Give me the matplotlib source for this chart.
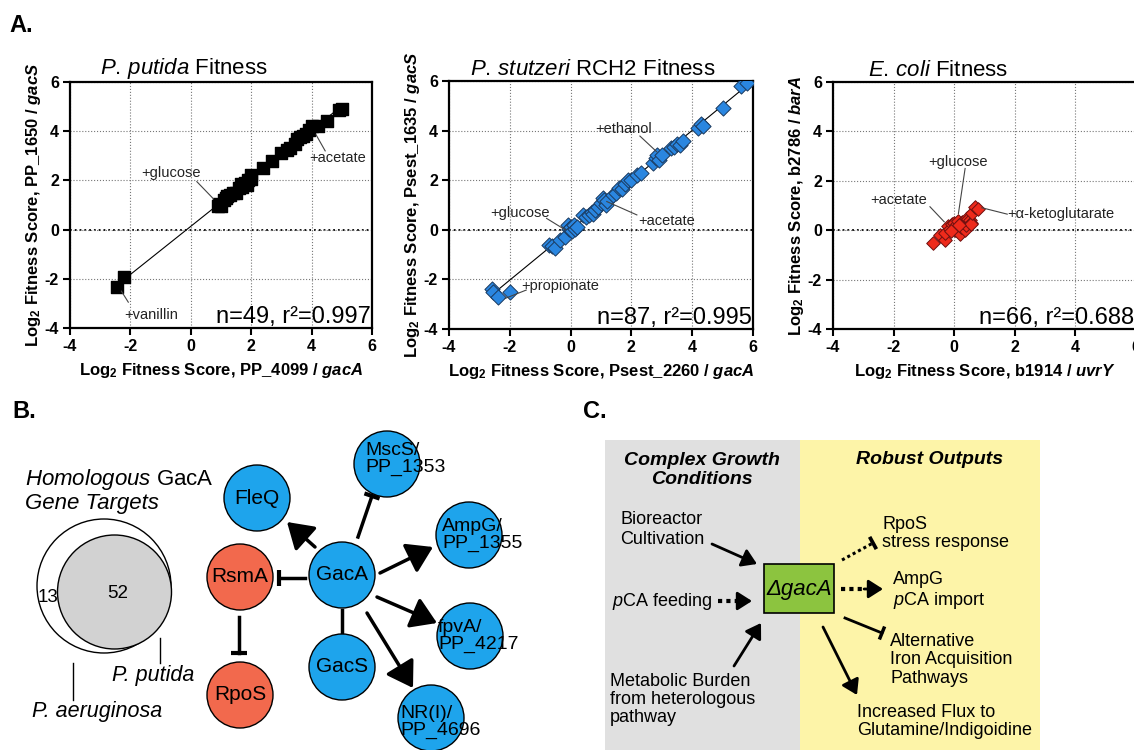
import numpy as np
import matplotlib.pyplot as plt
from matplotlib.patches import Circle, Rectangle

plt.rcParams['font.family'] = ['Liberation Sans', 'DejaVu Sans']
plt.rcParams['mathtext.fontset'] = 'custom'
plt.rcParams['mathtext.rm'] = 'Liberation Sans'
plt.rcParams['mathtext.it'] = 'Liberation Sans:italic'
plt.rcParams['mathtext.bf'] = 'Liberation Sans:bold'
plt.rcParams['mathtext.bfit'] = 'Liberation Sans:italic:bold'
plt.rcParams['axes.unicode_minus'] = False

W, H = 1134, 750

# --- panel A data ---
putida_x = [-2.45, -2.2, 0.9, 0.95, 1.0, 1.1, 1.15, 1.2, 1.3, 1.4, 1.5, 1.6, 1.65, 1.7, 1.8,
            1.85, 1.9, 2.0, 2.0, 2.4, 2.7, 3.0, 3.2, 3.3, 3.45, 3.5, 3.6, 3.7, 3.8, 3.9,
            4.0, 4.2, 4.5, 4.9, 5.0]
putida_y = [-2.32, -1.91, 0.95, 1.05, 0.95, 1.2, 1.3, 1.35, 1.4, 1.5, 1.5, 1.7, 1.85, 1.75, 1.9,
            1.8, 2.0, 2.05, 2.2, 2.5, 2.8, 3.1, 3.25, 3.3, 3.5, 3.7, 3.75, 3.8, 3.9, 4.05,
            4.2, 4.2, 4.4, 4.85, 4.9]

stutzeri_x = [-2.6, -2.55, -2.4, -2.0, -0.7, -0.6, -0.5, -0.35, -0.2, -0.1, -0.05, 0.0, 0.0, 0.05,
              0.1, 0.15, 0.2, 0.4, 0.5, 0.6, 0.7, 0.75, 0.8, 0.9, 1.0, 1.05, 1.1, 1.15, 1.2,
              1.4, 1.5, 1.6, 1.7, 1.8, 1.9, 2.0, 2.2, 2.3, 2.7, 2.8, 2.85, 2.9, 3.0, 3.3,
              3.4, 3.5, 3.6, 3.7, 4.2, 4.3, 4.35, 5.0, 5.6, 5.8]
stutzeri_y = [-2.4, -2.5, -2.7, -2.5, -0.6, -0.65, -0.75, -0.4, -0.3, 0.2, 0.05, 0.0, 0.1, -0.05,
              0.2, 0.05, 0.1, 0.6, 0.5, 0.6, 0.7, 0.65, 0.8, 0.9, 1.1, 1.3, 1.2, 1.0, 1.15,
              1.4, 1.5, 1.7, 1.65, 1.85, 2.0, 2.0, 2.2, 2.3, 2.7, 2.9, 3.0, 2.8, 3.0, 3.3,
              3.35, 3.45, 3.4, 3.6, 4.1, 4.25, 4.2, 4.9, 5.8, 5.9]

coli_x = [-0.71, -0.47, -0.31, -0.31, -0.2, -0.15, -0.06, 0.0, 0.02, 0.08, 0.1, 0.13, 0.2, 0.24,
          0.25, 0.31, 0.35, 0.4, 0.42, 0.46, 0.51, 0.55, 0.57, 0.6, 0.68, 0.79, -0.1, 0.15]
coli_y = [-0.5, -0.2, -0.4, -0.11, 0.16, 0.05, 0.27, 0.3, 0.0, 0.24, 0.1, 0.38, -0.14, 0.14,
          0.35, 0.27, 0.0, 0.2, 0.5, 0.47, 0.41, 0.3, 0.27, 0.7, 0.94, 0.87, -0.05, 0.2]

ticks = [-4, -2, 0, 2, 4, 6]


def px_axes(fig, x0, y0, x1, y1):
    return fig.add_axes([x0 / W, 1 - y1 / H, (x1 - x0) / W, (y1 - y0) / H])


def style_fitness(ax, title, title_x, xlabel, ylabel, stats):
    ax.set_xlim(-4, 6)
    ax.set_ylim(-4, 6)
    ax.set_xticks(ticks)
    ax.set_yticks(ticks)
    ax.set_xticklabels([str(t) for t in ticks], fontweight='bold', fontsize=11.5)
    ax.set_yticklabels([str(t) for t in ticks], fontweight='bold', fontsize=11.5)
    ax.grid(True, linestyle=':', color='#777777', lw=0.8)
    ax.axhline(0, color='black', linestyle=':', lw=1.3, zorder=1)
    ax.tick_params(direction='out', length=5, width=1.5, pad=3)
    for s in ax.spines.values():
        s.set_linewidth(1.6)
    ax.set_xlabel(xlabel, fontweight='bold', fontsize=12, labelpad=5)
    ax.set_ylabel(ylabel, fontweight='bold', fontsize=12, labelpad=1)
    ax.text(title_x, 1.005, title, transform=ax.transAxes, fontsize=16,
            ha='left', va='bottom')
    ax.text(0.995, 0.0, stats, transform=ax.transAxes, fontsize=17,
            ha='right', va='bottom')


def note(ax, text, tpos, p0, p1, ha='center'):
    ax.plot([p0[0], p1[0]], [p0[1], p1[1]], color='#444444', lw=0.8, zorder=4)
    ax.text(tpos[0], tpos[1], text, fontsize=10.5, color='#222222', ha=ha, va='center', zorder=5)


def fit_line(ax, x, y):
    coef = np.polyfit(x, y, 1)
    xs = np.array([min(x), max(x)])
    ax.plot(xs, np.polyval(coef, xs), color='black', lw=0.8, zorder=2)


fig = plt.figure(figsize=(W / 100, H / 100), dpi=100)

# P. putida
ax1 = px_axes(fig, 70, 82, 372, 328)
fit_line(ax1, putida_x, putida_y)
ax1.scatter(putida_x, putida_y, marker='s', s=78, color='black', zorder=3)
style_fitness(ax1, r'$\mathit{P.\,putida}$ Fitness', 0.1,
              r'Log$_\mathbf{2}$ Fitness Score, PP_4099 / $\mathbfit{gacA}$',
              r'Log$_\mathbf{2}$ Fitness Score, PP_1650 / $\mathbfit{gacS}$',
              'n=49, r²=0.997')
note(ax1, '+glucose', (-0.65, 2.3), (0.2, 1.95), (0.75, 1.25))
note(ax1, '+acetate', (4.85, 2.9), (4.15, 3.85), (4.45, 3.2))
note(ax1, '+vanillin', (-1.3, -3.47), (-2.3, -2.5), (-2.07, -2.95))

# P. stutzeri
ax2 = px_axes(fig, 449, 81, 753, 329)
fit_line(ax2, stutzeri_x, stutzeri_y)
ax2.scatter(stutzeri_x, stutzeri_y, marker='D', s=60, color='#2a86e0',
            edgecolor='#1b3a5e', linewidth=0.7, zorder=3)
style_fitness(ax2, r'$\mathit{P.\,stutzeri}$ RCH2 Fitness', 0.07,
              r'Log$_\mathbf{2}$ Fitness Score, Psest_2260 / $\mathbfit{gacA}$',
              r'Log$_\mathbf{2}$ Fitness Score, Psest_1635 / $\mathbfit{gacS}$',
              'n=87, r²=0.995')
note(ax2, '+ethanol', (1.73, 4.05), (2.28, 3.78), (2.83, 3.15))
note(ax2, '+glucose', (-1.66, 0.67), (-0.79, 0.46), (-0.18, 0.0))
note(ax2, '+acetate', (3.16, 0.37), (2.18, 0.6), (1.19, 1.14))
note(ax2, '+propionate', (-0.35, -2.27), (-1.46, -2.43), (-2.16, -2.77))

# E. coli
ax3 = px_axes(fig, 833, 82, 1136, 329)
ax3.scatter(coli_x, coli_y, marker='D', s=48, color='#ee2a1b',
            edgecolor='#6e1010', linewidth=0.7, zorder=3)
style_fitness(ax3, r'$\mathit{E.\,coli}$ Fitness', 0.115,
              r'Log$_\mathbf{2}$ Fitness Score, b1914 / $\mathbfit{uvrY}$',
              r'Log$_\mathbf{2}$ Fitness Score, b2786 / $\mathbfit{barA}$',
              'n=66, r²=0.688')
note(ax3, '+glucose', (0.14, 2.78), (0.36, 2.5), (0.14, 0.68))
note(ax3, '+acetate', (-1.84, 1.22), (-0.8, 0.95), (-0.33, 0.34))
note(ax3, '+α-ketoglutarate', (1.75, 0.64), (1.75, 0.65), (0.91, 0.91), ha='left')

# --- overlay in pixel coordinates for panels B and C ---
ov = fig.add_axes([0, 0, 1, 1], zorder=-1)
ov.set_xlim(0, W)
ov.set_ylim(H, 0)
ov.axis('off')

for lbl, x, y in [('A.', 9, 25), ('B.', 12, 412), ('C.', 583, 412)]:
    ov.text(x, y, lbl, fontsize=17, fontweight='bold', va='center', ha='left')

# Venn
ov.add_patch(Circle((104, 586), 67, fc='white', ec='black', lw=1))
ov.add_patch(Circle((114.5, 592), 57, fc='#d2d2d2', ec='black', lw=1))
ov.text(118, 593, '52', fontsize=13.5, ha='center', va='center')
ov.text(48, 597, '13', fontsize=13.5, ha='center', va='center')
ov.text(25, 480, r'$\mathit{Homologous}$ GacA', fontsize=16, ha='left', va='center')
ov.text(25, 504, 'Gene Targets', fontsize=16, style='italic', ha='left', va='center')
ov.plot([160, 160], [638, 663], color='black', lw=1)
ov.plot([73, 73], [663, 700], color='black', lw=1)
ov.text(112, 676, 'P. putida', fontsize=15.5, style='italic', ha='left', va='center')
ov.text(32, 712, 'P. aeruginosa', fontsize=15.5, style='italic', ha='left', va='center')

BLUE = '#1ea4ec'
RED = '#f2694d'
R = 33


def arrow(p0, p1, lw=2.5, hl=0.55, hw=0.35, ms=28, dotted=False):
    if dotted:
        v = np.subtract(p1, p0)
        mid = np.add(p0, v * 0.55)
        ov.plot([p0[0], mid[0]], [p0[1], mid[1]], color='black', lw=3,
                linestyle=(0, (1, 1)), solid_capstyle='butt', zorder=3)
        p0 = mid
    ov.annotate('', xy=p1, xytext=p0, zorder=3,
                arrowprops=dict(arrowstyle=f'-|>,head_length={hl},head_width={hw}',
                                lw=lw, color='black', mutation_scale=ms,
                                shrinkA=0, shrinkB=0))


def tee(p0, p1, half=8, lw=2.5, dotted=False):
    ls = (0, (1, 1)) if dotted else '-'
    ov.plot([p0[0], p1[0]], [p0[1], p1[1]], color='black', lw=lw, linestyle=ls, zorder=3)
    v = np.subtract(p1, p0).astype(float)
    v /= np.hypot(*v)
    n = np.array([-v[1], v[0]])
    a = np.add(p1, n * half)
    b = np.subtract(p1, n * half)
    ov.plot([a[0], b[0]], [a[1], b[1]], color='black', lw=lw + 0.5,
            solid_capstyle='butt', zorder=3)


# network edges
arrow((315, 547), (287, 522))
tee((358, 537), (372, 496))
arrow((380, 573), (433, 547))
arrow((377, 597), (437, 623))
arrow((367, 613), (413, 688))
ov.plot([342, 342], [610, 634], color='black', lw=2.5)
tee((305, 578), (279, 578))
tee((239, 617), (239, 653))

nodes = [
    ('FleQ', 257, 498, BLUE), ('GacA', 342, 575, BLUE), ('GacS', 342, 667, BLUE),
    ('RsmA', 240, 577, RED), ('RpoS', 240, 695, RED),
]
for name, x, y, c in nodes:
    ov.add_patch(Circle((x, y), R, fc=c, ec='black', lw=1, zorder=2))
    ov.text(x, y, name, fontsize=15, ha='center', va='center', zorder=4)

targets = [
    ('MscS/\nPP_1353', 387, 464, 365, 459),
    ('AmpG/\nPP_1355', 469, 535, 442, 535),
    ('fpvA/\nPP_4217', 470, 636, 438, 636),
    ('NR(I)/\nPP_4696', 431, 718, 400, 722),
]
for name, x, y, tx, ty in targets:
    ov.add_patch(Circle((x, y), R, fc=BLUE, ec='black', lw=1, zorder=2))
    ov.text(tx, ty, name, fontsize=14, ha='left', va='center', linespacing=1.0, zorder=4)

# Panel C
ov.add_patch(Rectangle((605, 440), 195, 310, fc='#e0e0e0', ec='none', zorder=0))
ov.add_patch(Rectangle((800, 440), 240, 310, fc='#fdf4a8', ec='none', zorder=0))
ov.text(702, 470, 'Complex Growth\nConditions', fontsize=14, fontweight='bold',
        style='italic', ha='center', va='center')
ov.text(930, 460, 'Robust Outputs', fontsize=14, fontweight='bold',
        style='italic', ha='center', va='center')

ov.text(620, 529.5, 'Bioreactor\nCultivation', fontsize=13, ha='left', va='center')
ov.text(612, 601, r'$\mathit{p}$CA feeding', fontsize=13, ha='left', va='center')
ov.text(610, 699.5, 'Metabolic Burden\nfrom heterologous\npathway', fontsize=13,
        ha='left', va='center', linespacing=1.1)
ov.text(882, 533.5, 'RpoS\nstress response', fontsize=13, ha='left', va='center',
        linespacing=1.1)
ov.text(893, 591, 'AmpG\n' + r'$\mathit{p}$CA import', fontsize=13, ha='left', va='center',
        linespacing=1.1)
ov.text(890, 660, 'Alternative\nIron Acquisition\nPathways', fontsize=13,
        ha='left', va='center', linespacing=1.1)
ov.text(857, 721.5, 'Increased Flux to\nGlutamine/Indigoidine', fontsize=13,
        ha='left', va='center', linespacing=1.1)

ov.add_patch(Rectangle((764, 564), 70, 49, fc='#8cc43f', ec='black', lw=1.2, zorder=2))
ov.text(799, 589, 'ΔgacA', fontsize=16, style='italic', ha='center', va='center', zorder=4)

arrow((712, 544), (757, 564), lw=2, ms=16)
arrow((734, 666), (761, 623), lw=2, ms=16)
arrow((718, 601), (752, 601), lw=2, ms=16, dotted=True)
tee((842, 560), (873, 543), half=7, lw=2.2, dotted=True)
arrow((841, 589), (883, 589), lw=2, ms=16, dotted=True)
tee((845, 618), (882, 633), half=7, lw=2)
arrow((823, 627), (857, 695), lw=2, ms=16)

fig.savefig('out.png', dpi=100)
